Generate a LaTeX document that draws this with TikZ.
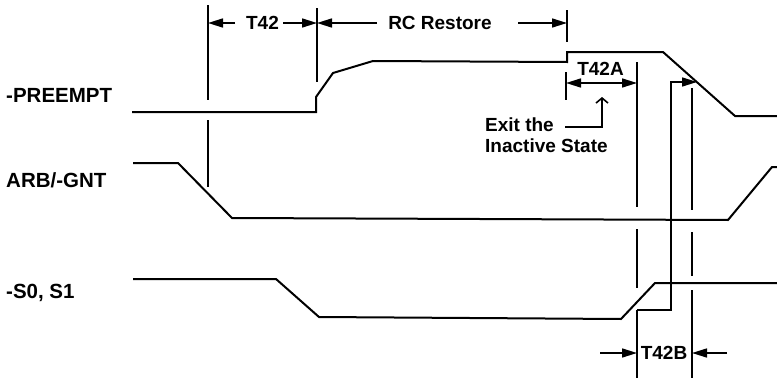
\documentclass[tikz,border=0pt]{standalone}
\usepackage{fontspec}
\setmainfont{Liberation Sans}
\usetikzlibrary{arrows.meta}
\begin{document}
\begin{tikzpicture}[x=1pt,y=-1pt,
  sig/.style={line width=2pt,line join=miter},
  vline/.style={line width=1.6pt},
  arr/.style={vline,-{Triangle[length=15pt,width=9pt]}},
  darr/.style={vline,{Triangle[length=15pt,width=9pt]}-{Triangle[length=15pt,width=9pt]}},
  openarr/.style={vline,-{Straight Barb[length=5pt,width=12pt]}},
  lbl/.style={font=\bfseries\fontsize{19}{21}\selectfont,inner sep=0pt},
  siglbl/.style={font=\bfseries\fontsize{20.5}{22}\selectfont,inner sep=0pt,anchor=west}]
\useasboundingbox (0,0) rectangle (777,380);
% signal labels
\node[siglbl] (lp) at (6,95) {-PREEMPT};
\node[siglbl] (la) at (6,180) {ARB/-GNT};
\node[siglbl] (ls) at (6,293) {-S0, S1};
% waveforms
\draw[sig] (132,112) -- (316,112) -- (316,97) -- (333,73) -- (373,61) -- (567,62) -- (567,52) -- (663,52) -- (735,116) -- (777,116);
\draw[sig] (133,163) -- (178,163) -- (232,218) -- (728,220) -- (772,167) -- (777,167);
\draw[sig] (133,279) -- (276,279) -- (319,317) -- (621,319) -- (655,283) -- (777,283);
% vertical reference lines
\draw[vline] (208,5) -- (208,100) (208,120) -- (208,187);
\draw[vline] (317,8) -- (317,82);
\draw[vline] (567,10) -- (567,42);
\draw[vline] (566,72) -- (566,100);
\draw[vline] (637,62) -- (637,207) (637,229) -- (637,288) (637,310) -- (637,378);
\draw[vline] (692,88) -- (692,210) (692,232) -- (692,276) (692,290) -- (692,378);
\draw[arr] (637,310) -- (671,310) -- (671,82) -- (697,82);
% timing labels
\node[lbl] (t42) at (262.5,23) {T42};
\node[lbl] (rc) at (440,23) {RC Restore};
\draw[arr] (235,23) -- (208,23);
\draw[arr] (283,23) -- (317,23);
\draw[arr] (377,23) -- (317,23);
\draw[arr] (518,23) -- (567,23);
\node[lbl] (t42a) at (600.5,69) {T42A};
\draw[darr] (566,83) -- (637,83);
\node[lbl,anchor=west] (ex1) at (485,125) {Exit the};
\node[lbl,anchor=west] (ex2) at (485,146) {Inactive State};
\draw[openarr] (565,127) -- (602,127) -- (602,97);
\node[lbl] (t42b) at (664,353) {T42B};
\draw[arr] (600,353) -- (637,353);
\draw[arr] (727,353) -- (692,353);
\end{tikzpicture}
\end{document}
